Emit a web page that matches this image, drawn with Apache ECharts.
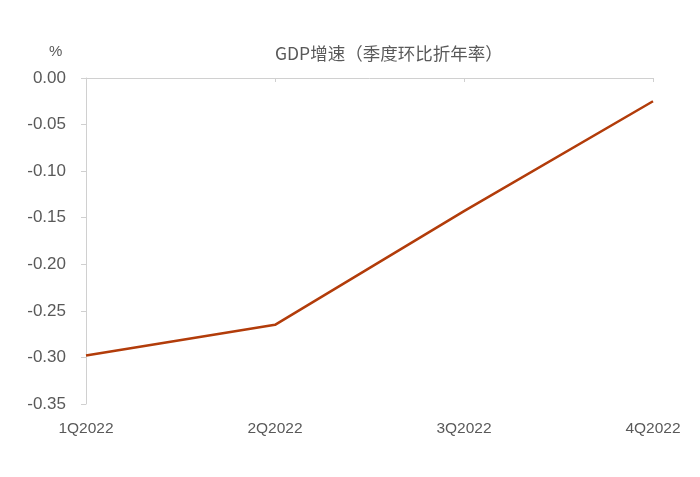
<!DOCTYPE html>
<html><head><meta charset="utf-8">
<script src="https://cdn.jsdelivr.net/npm/echarts@6/dist/echarts.min.js"></script>
<style>html,body{margin:0;padding:0;background:#fff}#c{width:700px;height:477px}</style>
</head><body><div id="c"></div>
<script>
const categories = ['1Q2022', '2Q2022', '3Q2022', '4Q2022'];
const gdpGrowth = [-0.298, -0.265, -0.143, -0.025];
const titleText = 'GDP增速（季度环比折年率）';
const unitText = '%';

const chart = echarts.init(document.getElementById('c'));
const grey = '#595959';
chart.setOption({
  animation: false,
  title: {
    text: titleText, left: 270, top: 40,
    textStyle: { fontFamily: 'Noto Sans CJK SC', fontSize: 17.5, fontWeight: 'normal', color: grey }
  },
  graphic: [{
    type: 'text', left: 49, top: 44,
    style: { text: unitText, fontFamily: 'Liberation Sans', fontSize: 15, fill: grey }
  }],
  grid: { left: 86, right: 47, top: 78, bottom: 73 },
  xAxis: [{
    type: 'category', data: categories, boundaryGap: false, position: 'bottom',
    axisLine: { show: false }, axisTick: { show: false },
    axisLabel: { margin: 17, color: grey, fontFamily: 'Liberation Sans', fontSize: 15.5 }
  }, {
    type: 'category', data: categories, boundaryGap: false, position: 'top',
    axisLine: { show: true, onZero: false, lineStyle: { color: '#D0D0D0', width: 1 } },
    axisTick: { show: true, inside: true, length: 4, lineStyle: { color: '#D0D0D0' } },
    axisLabel: { show: false }
  }],
  yAxis: {
    type: 'value', min: -0.35, max: 0, interval: 0.05,
    axisLine: { show: true, lineStyle: { color: '#D0D0D0' } },
    axisTick: { show: true, length: 5, lineStyle: { color: '#D0D0D0' } },
    splitLine: { show: false },
    axisLabel: { margin: 20, color: grey, fontFamily: 'Liberation Sans', fontSize: 17,
      formatter: v => v.toFixed(2) }
  },
  series: [{
    type: 'line', data: gdpGrowth, xAxisIndex: 0, symbol: 'none',
    lineStyle: { color: '#B23C0A', width: 2.5 }
  }]
});
</script></body></html>
